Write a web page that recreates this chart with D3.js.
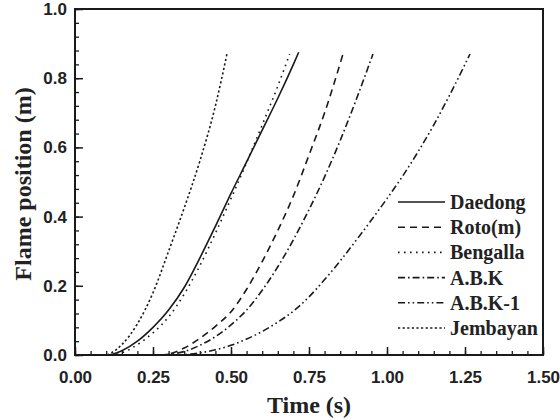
<!DOCTYPE html>
<html>
<head>
<meta charset="utf-8">
<script src="https://cdn.jsdelivr.net/npm/d3@7"></script>
<style>
  html, body { margin: 0; padding: 0; background: #fff; }
  svg { display: block; }
</style>
</head>
<body>
<svg id="chart" width="560" height="420"></svg>
<script>
// ---- data ----
const seriesNames = ["Daedong", "Roto(m)", "Bengalla", "A.B.K", "A.B.K-1", "Jembayan"];

const daedongT = [0, 0.10, 0.12, 0.15, 0.20, 0.25, 0.30, 0.35, 0.40, 0.45, 0.50, 0.55, 0.60, 0.65, 0.70, 0.717];
const daedongY = [0, 0, 0.002, 0.012, 0.04, 0.08, 0.13, 0.195, 0.28, 0.372, 0.467, 0.558, 0.65, 0.742, 0.84, 0.875];

const rotoT = [0, 0.28, 0.30, 0.35, 0.40, 0.45, 0.50, 0.55, 0.60, 0.65, 0.70, 0.75, 0.80, 0.859];
const rotoY = [0, 0, 0.003, 0.02, 0.048, 0.083, 0.125, 0.19, 0.27, 0.36, 0.46, 0.578, 0.70, 0.87];

const bengallaT = [0, 0.12, 0.15, 0.20, 0.25, 0.30, 0.35, 0.40, 0.45, 0.50, 0.55, 0.60, 0.65, 0.688];
const bengallaY = [0, 0, 0.006, 0.03, 0.064, 0.11, 0.176, 0.258, 0.352, 0.452, 0.556, 0.665, 0.777, 0.87];

const abkT = [0, 0.28, 0.30, 0.35, 0.40, 0.45, 0.50, 0.55, 0.60, 0.65, 0.70, 0.75, 0.80, 0.85, 0.90, 0.955];
const abkY = [0, 0, 0.002, 0.01, 0.028, 0.053, 0.087, 0.13, 0.187, 0.255, 0.333, 0.42, 0.515, 0.62, 0.735, 0.87];

const abk1T = [0, 0.32, 0.35, 0.40, 0.45, 0.50, 0.55, 0.60, 0.65, 0.70, 0.75, 0.80, 0.85, 0.90, 0.95, 1.00, 1.05, 1.10, 1.15, 1.20, 1.25, 1.266];
const abk1Y = [0, 0, 0.001, 0.006, 0.015, 0.028, 0.046, 0.068, 0.095, 0.127, 0.168, 0.218, 0.272, 0.33, 0.39, 0.452, 0.517, 0.588, 0.665, 0.75, 0.84, 0.87];

const jembayanT = [0, 0.10, 0.12, 0.15, 0.20, 0.25, 0.30, 0.35, 0.40, 0.45, 0.487];
const jembayanY = [0, 0, 0.008, 0.03, 0.09, 0.18, 0.30, 0.425, 0.56, 0.72, 0.87];

const xTickValues = [0, 0.25, 0.5, 0.75, 1.0, 1.25, 1.5];
const xTickLabels = ["0.00", "0.25", "0.50", "0.75", "1.00", "1.25", "1.50"];
const yTickValues = [0, 0.2, 0.4, 0.6, 0.8, 1.0];
const yTickLabels = ["0.0", "0.2", "0.4", "0.6", "0.8", "1.0"];

const xLabel = "Time (s)";
const yLabel = "Flame position (m)";

// ---- build ----
const svg = d3.select("#chart");
const L = 75, R = 543, T = 9, B = 355;
const x = d3.scaleLinear().domain([0, 1.5]).range([L, R]);
const y = d3.scaleLinear().domain([0, 1.0]).range([B, T]);

const ink = "#1a1a1a";
const styles = [
  { dash: null },                 // Daedong solid
  { dash: "7,5" },                // Roto dashed
  { dash: "1.6,4.4" },            // Bengalla dotted
  { dash: "7,3,1.6,3" },          // A.B.K dash-dot
  { dash: "7,3,1.6,3,1.6,3" },    // A.B.K-1 dash-dot-dot
  { dash: "2.2,2.4" }             // Jembayan short dot
];

const seriesData = [
  [daedongT, daedongY],
  [rotoT, rotoY],
  [bengallaT, bengallaY],
  [abkT, abkY],
  [abk1T, abk1Y],
  [jembayanT, jembayanY]
].map(([ts, vs]) => ts.map((t, i) => [t, vs[i]]));

// minor ticks (inward)
const xMinor = d3.range(0, 1.5001, 0.05);
const yMinor = d3.range(0, 1.0001, 0.04);

svg.append("g").attr("transform", `translate(0,${B})`)
  .call(d3.axisBottom(x).tickValues(xMinor).tickSize(-4).tickFormat(""))
  .call(g => g.select(".domain").remove())
  .selectAll("line").attr("stroke", ink).attr("stroke-width", 1.3);

svg.append("g").attr("transform", `translate(${L},0)`)
  .call(d3.axisLeft(y).tickValues(yMinor).tickSize(-4).tickFormat(""))
  .call(g => g.select(".domain").remove())
  .selectAll("line").attr("stroke", ink).attr("stroke-width", 1.3);

// major x axis
const xAx = svg.append("g").attr("transform", `translate(0,${B})`)
  .call(d3.axisBottom(x).tickValues(xTickValues).tickSize(-8).tickPadding(16)
    .tickFormat((d, i) => xTickLabels[i]));
xAx.select(".domain").remove();
xAx.selectAll("line").attr("stroke", ink).attr("stroke-width", 1.5);
xAx.selectAll("text")
  .attr("font-family", "'Liberation Sans', Arial, sans-serif")
  .attr("font-weight", "bold").attr("font-size", 17).attr("fill", "#222");

// major y axis
const yAx = svg.append("g").attr("transform", `translate(${L},0)`)
  .call(d3.axisLeft(y).tickValues(yTickValues).tickSize(-8).tickPadding(8)
    .tickFormat((d, i) => yTickLabels[i]));
yAx.select(".domain").remove();
yAx.selectAll("line").attr("stroke", ink).attr("stroke-width", 1.5);
yAx.selectAll("text")
  .attr("font-family", "'Liberation Sans', Arial, sans-serif")
  .attr("font-weight", "bold").attr("font-size", 17).attr("fill", "#222");

// frame
svg.append("rect")
  .attr("x", L).attr("y", T).attr("width", R - L).attr("height", B - T)
  .attr("fill", "none").attr("stroke", ink).attr("stroke-width", 2);

// curves
const line = d3.line().x(d => x(d[0])).y(d => y(d[1])).curve(d3.curveMonotoneX);
svg.append("g").selectAll("path").data(seriesData).join("path")
  .attr("d", line)
  .attr("fill", "none")
  .attr("stroke", ink)
  .attr("stroke-width", 1.6)
  .attr("stroke-dasharray", (d, i) => styles[i].dash);

// legend
const legY0 = 202, legDy = 25.2;
const leg = svg.append("g");
seriesNames.forEach((name, i) => {
  const yy = legY0 + i * legDy;
  leg.append("line")
    .attr("x1", 398).attr("x2", 445).attr("y1", yy).attr("y2", yy)
    .attr("stroke", ink).attr("stroke-width", 1.6)
    .attr("stroke-dasharray", styles[i].dash);
  leg.append("text")
    .attr("x", 450).attr("y", yy + 7)
    .attr("font-family", "'Liberation Serif', 'Times New Roman', serif")
    .attr("font-weight", "bold").attr("font-size", 20).attr("fill", "#222")
    .text(name);
});

// axis titles
svg.append("text")
  .attr("x", (L + R) / 2).attr("y", 413)
  .attr("text-anchor", "middle")
  .attr("font-family", "'Liberation Serif', 'Times New Roman', serif")
  .attr("font-weight", "bold").attr("font-size", 24).attr("fill", "#222")
  .text(xLabel);

svg.append("text")
  .attr("transform", `translate(31,184) rotate(-90)`)
  .attr("text-anchor", "middle")
  .attr("font-family", "'Liberation Serif', 'Times New Roman', serif")
  .attr("font-weight", "bold").attr("font-size", 24).attr("fill", "#222")
  .text(yLabel);
</script>
</body>
</html>
